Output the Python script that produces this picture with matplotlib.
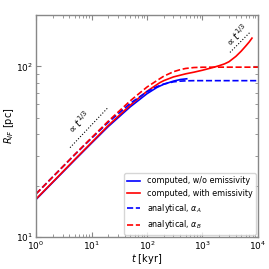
import numpy as np
import matplotlib
matplotlib.use("Agg")
import matplotlib.pyplot as plt

# time grid [kyr]
t_dash = [1, 2, 5, 10, 20, 50, 100, 150, 200, 300, 400, 500, 700, 1000, 2000, 5000, 10000]
# analytical solutions [pc]
r_alpha_a = [17.9, 22.5, 30.4, 37.9, 47.0, 60.8, 71.1, 76.0, 78.8, 81.2, 82.0, 82.3, 82.5, 82.5, 82.5, 82.5, 82.5]
r_alpha_b = [17.9, 22.5, 30.5, 38.2, 47.7, 62.9, 75.7, 82.5, 87.6, 93.1, 95.8, 97.3, 98.5, 98.9, 99.0, 99.0, 99.0]

# computed, w/o emissivity
t_noem = [1, 2, 5, 10, 20, 50, 100, 150, 200, 300, 400, 520]
r_noem = [16.6, 20.9, 28.3, 35.5, 44.4, 58.0, 69.2, 75.2, 78.6, 82.0, 83.8, 84.6]

# computed, with emissivity
t_em = [1, 2, 5, 10, 20, 50, 100, 170, 200, 300, 500, 700, 1000, 1500, 2000, 2500, 3000, 4000, 5000, 6000, 7000, 7800]
r_em = [16.7, 21.0, 28.5, 35.8, 45.0, 59.3, 71.5, 80.3, 82.5, 86.8, 90.5, 92.5, 95.0, 98.3, 101.0, 103.5, 106.5, 114.5, 123.0, 131.5, 139.5, 146.5]

# guide slopes
t_guide1 = [4.1, 19.8]
r_guide1 = [33.4, 57.4]
t_guide2 = [3130, 7180]
r_guide2 = [120.8, 158.5]

fig = plt.figure(figsize=(2.69, 2.69), dpi=100)
ax = fig.add_axes([0.134, 0.119, 0.825, 0.825])

ax.plot(t_noem, r_noem, color="blue", lw=1.2, label="computed, w/o emissivity")
ax.plot(t_em, r_em, color="red", lw=1.2, label="computed, with emissivity")
ax.plot(t_dash, r_alpha_a, color="blue", lw=1.2, ls="--", label=r"analytical, $\alpha_A$")
ax.plot(t_dash, r_alpha_b, color="red", lw=1.2, ls="--", label=r"analytical, $\alpha_B$")

ax.plot(t_guide1, r_guide1, color="black", lw=0.8, ls=":")
ax.plot(t_guide2, r_guide2, color="black", lw=0.8, ls=":")
ax.text(6.0, 47, r"$\propto t^{1/3}$", rotation=45, fontsize=7, ha="center", va="center")
ax.text(4200, 153, r"$\propto t^{1/3}$", rotation=45, fontsize=7, ha="center", va="center")

ax.set_xscale("log")
ax.set_yscale("log")
ax.set_xlim(1, 1e4)
ax.set_ylim(10, 200)
ax.set_xlabel(r"$t$ [kyr]", fontsize=7, labelpad=0)
ax.set_ylabel(r"$R_{IF}$ [pc]", fontsize=7, labelpad=0)

for s in ax.spines.values():
    s.set_color("#888888")
    s.set_linewidth(1.0)
ax.tick_params(which="both", direction="in", top=True, right=True, colors="#888888",
               labelcolor="black", labelsize=6.5, pad=2)
ax.tick_params(which="major", length=3.5)
ax.tick_params(which="minor", length=2)

leg = ax.legend(loc="lower right", fontsize=5.8, handlelength=1.6, borderaxespad=0.3,
                labelspacing=0.45, fancybox=True)
leg.get_frame().set_edgecolor("#cccccc")

fig.savefig("out.png", dpi=100)
